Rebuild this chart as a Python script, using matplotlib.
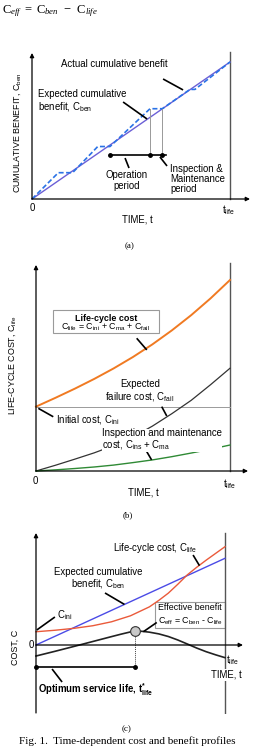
import matplotlib
matplotlib.use("Agg")
import matplotlib.pyplot as plt
from matplotlib.patches import Rectangle

plt.rcParams["font.family"] = ["Liberation Sans", "DejaVu Sans"]
plt.rcParams["mathtext.fontset"] = "custom"
plt.rcParams["mathtext.rm"] = "Liberation Serif"
plt.rcParams["mathtext.it"] = "Liberation Serif:italic"
plt.rcParams["mathtext.sf"] = "Liberation Sans"
plt.rcParams["mathtext.bf"] = "Liberation Sans:bold"

W, H = 254, 747
FS = 6.9      # annotation text
FS_S = 6.4    # axis titles and boxed text

# (a) cumulative benefit
a_exp_t = [0.0, 1.0]
a_exp_c = [0.0, 1.0]
a_act_t = [0.0, 0.133, 0.205, 0.332, 0.394, 0.596, 0.658, 0.798, 0.823, 1.0]
a_act_c = [0.0, 0.192, 0.192, 0.383, 0.383, 0.659, 0.659, 0.80, 0.80, 1.0]
a_period_t = [0.394, 0.596, 0.658]
a_period_c = 0.321

# (b) life-cycle cost
b_t = [0.0, 0.1, 0.2, 0.3, 0.4, 0.5, 0.6, 0.7, 0.8, 0.9, 1.0]
b_life = [0.337, 0.383, 0.431, 0.482, 0.537, 0.597, 0.663, 0.736, 0.816, 0.904, 1.0]
b_fail = [0.0, 0.03, 0.062, 0.095, 0.133, 0.178, 0.235, 0.30, 0.37, 0.452, 0.538]
b_ma = [0.0, 0.006, 0.013, 0.021, 0.031, 0.044, 0.058, 0.075, 0.094, 0.114, 0.136]
b_ini = 0.337

# (c) cost vs benefit
c_ben_t = [0.0, 1.0]
c_ben = [0.0, 1.0]
c_life_t = [0.0, 0.1, 0.2, 0.3, 0.4, 0.5, 0.6, 0.65, 0.7, 0.75, 0.8, 0.85, 0.9, 1.0]
c_life = [0.153, 0.170, 0.192, 0.222, 0.268, 0.337, 0.440, 0.515, 0.598, 0.700, 0.808, 0.896, 0.978, 1.134]
c_eff_t = [0.0, 0.1, 0.2, 0.3, 0.4, 0.45, 0.5, 0.524, 0.56, 0.6, 0.65, 0.7, 0.75, 0.8, 0.85, 0.9, 0.95, 1.0]
c_eff = [-0.127, -0.073, -0.017, 0.04, 0.097, 0.125, 0.151, 0.161, 0.158, 0.148, 0.128, 0.098,
         0.058, 0.012, -0.035, -0.077, -0.113, -0.146]
c_opt_t = 0.524
c_opt_c = 0.161
c_opt_bar = -0.254


def panel(fig, ox, oy, sx, sy, xlim, ylim):
    x0 = ox + xlim[0] * sx
    x1 = ox + xlim[1] * sx
    ytop = oy - ylim[1] * sy
    ybot = oy - ylim[0] * sy
    ax = fig.add_axes([x0 / W, 1 - ybot / H, (x1 - x0) / W, (ybot - ytop) / H])
    ax.set_xlim(xlim)
    ax.set_ylim(ylim)
    ax.axis("off")
    return ax


def arrow(ax, x0, y0, x1, y1):
    ax.annotate("", xy=(x1, y1), xytext=(x0, y0),
                arrowprops=dict(arrowstyle="-|>", color="black", lw=0.9,
                                mutation_scale=6, shrinkA=0, shrinkB=0))


def pointer(ax, x0, y0, x1, y1):
    ax.plot([x0, x1], [y0, y1], color="black", lw=1.2, solid_capstyle="butt")


def axes_lines(ax, xend, ytop, ybot=0.0):
    arrow(ax, 0, ybot, 0, ytop)
    arrow(ax, 0, 0, xend, 0)


def sub(s):
    return r"$_{\mathsf{" + s + "}}$"


fig = plt.figure(figsize=(W / 100, H / 100), dpi=100)
fig.patch.set_facecolor("white")

fig.text(2 / W, 1 - 11 / H,
         r"$\mathrm{C}_{eff}\ =\ \mathrm{C}_{ben}\ \ \mathrm{-}\ \ \mathrm{C}_{life}$",
         fontsize=9.0, va="center", ha="left")

# ---- panel (a)
ax = panel(fig, 32, 199, 198, 137, (-0.2, 1.12), (-0.25, 1.1))
axes_lines(ax, 1.101, 1.066)
ax.plot([1, 1], [0, 1.073], color="#555555", lw=1.0)
ax.plot(a_exp_t, a_exp_c, color="#6b5fd6", lw=1.0)
ax.plot(a_act_t, a_act_c, color="#2a72e6", lw=1.2, ls=(0, (3, 1.5)))
for t in a_period_t[1:]:
    ax.plot([t, t], [a_period_c, 0.659], color="#999999", lw=0.7)
ax.plot([a_period_t[0], a_period_t[-1] + 0.02], [a_period_c, a_period_c], color="black", lw=1.2)
ax.plot(a_period_t, [a_period_c] * 3, "o", color="black", ms=2.5)
ax.text(0.417, 0.985, "Actual cumulative benefit", fontsize=FS, ha="center", va="center")
pointer(ax, 0.662, 0.876, 0.763, 0.796)
ax.text(0.03, 0.712, "Expected cumulative\nbenefit, C" + sub("ben"), fontsize=FS,
        ha="left", va="center", linespacing=1.1)
pointer(ax, 0.46, 0.708, 0.581, 0.584)
ax.text(0.48, 0.135, "Operation\nperiod", fontsize=FS, ha="center", va="center", linespacing=1.15)
pointer(ax, 0.47, 0.299, 0.49, 0.226)
ax.text(0.697, 0.146, "Inspection &\nMaintenance\nperiod", fontsize=FS, ha="left", va="center",
        linespacing=1.05)
pointer(ax, 0.646, 0.307, 0.682, 0.241)
ax.text(-0.076, 0.482, "CUMULATIVE BENEFIT, C" + sub("ben"), fontsize=FS_S, rotation=90,
        ha="center", va="center")
ax.text(0.0, -0.066, "0", fontsize=FS, ha="center", va="center")
ax.text(0.995, -0.08, "t" + sub("life"), fontsize=FS, ha="center", va="center")
ax.text(0.53, -0.146, "TIME, t", fontsize=FS, ha="center", va="center")
fig.text(130 / W, 1 - 246 / H, "(a)", fontsize=6.5, family="Liberation Serif", ha="center", va="center")

# ---- panel (b)
ax = panel(fig, 36, 471, 194, 191, (-0.2, 1.12), (-0.12, 1.1))
axes_lines(ax, 1.093, 1.079)
ax.plot([1, 1], [0, 1.089], color="#555555", lw=1.0)
ax.plot([0, 1], [b_ini, b_ini], color="#9a9a9a", lw=0.7)
ax.plot(b_t, b_life, color="#f07a22", lw=1.4)
ax.plot(b_t, b_fail, color="#333333", lw=0.9)
ax.plot(b_t, b_ma, color="#2f8a35", lw=1.0)
ax.add_patch(Rectangle((0.086, 0.721), 0.55, 0.122, fc="white", ec="#9a9a9a", lw=0.8))
ax.text(0.361, 0.80, "Life-cycle cost", fontsize=FS_S, fontweight="bold", ha="center", va="center")
ax.text(0.361, 0.752, "C" + sub("life") + " = C" + sub("ini") + " + C" + sub("ma") + " + C" + sub("fail"),
        fontsize=FS_S, ha="center", va="center")
pointer(ax, 0.519, 0.695, 0.571, 0.634)
ax.text(0.536, 0.417, "Expected\nfailure cost, C" + sub("fail"), fontsize=FS, ha="center", va="center",
        linespacing=1.1)
pointer(ax, 0.648, 0.337, 0.674, 0.288)
ax.text(0.103, 0.271, "Initial cost, C" + sub("ini"), fontsize=FS, ha="left", va="center")
pointer(ax, 0.089, 0.284, 0.012, 0.328)
ax.text(0.34, 0.165, "Inspection and maintenance\ncost, C" + sub("ins") + " + C" + sub("ma"),
        fontsize=FS, ha="left", va="center", linespacing=1.1,
        bbox=dict(fc="white", ec="none", pad=0.3))
pointer(ax, 0.571, 0.101, 0.596, 0.058)
ax.text(-0.119, 0.555, "LIFE-CYCLE COST, C" + sub("life"), fontsize=FS_S, rotation=90,
        ha="center", va="center")
ax.text(-0.005, -0.052, "0", fontsize=FS, ha="center", va="center")
ax.text(1.0, -0.068, "t" + sub("life"), fontsize=FS, ha="center", va="center")
ax.text(0.552, -0.11, "TIME, t", fontsize=FS, ha="center", va="center")
fig.text(128 / W, 1 - 515 / H, "(b)", fontsize=6.5, family="Liberation Serif", ha="center", va="center")

# ---- panel (c)
ax = panel(fig, 36, 645, 189, 86.7, (-0.2, 1.12), (-0.8, 1.3))
axes_lines(ax, 1.095, 1.292, ybot=-0.784)
ax.plot([1, 1], [-0.784, 1.292], color="#555555", lw=1.0)
ax.plot(c_ben_t, c_ben, color="#4b4be6", lw=1.0)
ax.plot(c_life_t, c_life, color="#ea5a3a", lw=1.0)
ax.plot(c_eff_t, c_eff, color="#222222", lw=1.2)
ax.plot([c_opt_t, c_opt_t], [c_opt_bar, c_opt_c], color="#444444", lw=0.7, ls=(0, (1, 1)))
ax.plot([0, c_opt_t], [c_opt_bar, c_opt_bar], color="black", lw=1.2)
ax.plot([0, c_opt_t], [c_opt_bar, c_opt_bar], "o", color="black", ms=2.5)
ax.plot([c_opt_t], [c_opt_c], "o", mfc="#c8c8c8", mec="#333333", mew=0.8, ms=7)
ax.text(0.407, 1.119, "Life-cycle cost, C" + sub("life"), fontsize=FS, ha="left", va="center")
pointer(ax, 0.831, 1.038, 0.865, 0.915)
ax.text(0.328, 0.767, "Expected cumulative\nbenefit, C" + sub("ben"), fontsize=FS, ha="center",
        va="center", multialignment="center", linespacing=1.1)
pointer(ax, 0.365, 0.60, 0.468, 0.468)
ax.text(0.11, 0.346, "C" + sub("ini"), fontsize=FS, ha="left", va="center")
pointer(ax, 0.1, 0.323, 0.004, 0.173)
ax.add_patch(Rectangle((0.63, 0.196), 0.37, 0.30, fc="white", ec="#9a9a9a", lw=0.8))
ax.text(0.815, 0.427, "Effective benefit", fontsize=FS_S, ha="center", va="center")
ax.text(0.815, 0.277, "C" + sub("eff") + " = C" + sub("ben") + " - C" + sub("life"), fontsize=FS_S,
        ha="center", va="center")
pointer(ax, 0.639, 0.260, 0.568, 0.153)
ax.text(-0.01, 0.0, "0", fontsize=FS, ha="right", va="center")
ax.text(1.042, -0.173, "t" + sub("life"), fontsize=FS, ha="center", va="center")
ax.text(1.005, -0.346, "TIME, t", fontsize=FS, ha="center", va="center",
        bbox=dict(fc="white", ec="none", pad=0.5))
ax.text(-0.111, -0.023, "COST, C", fontsize=FS_S, rotation=90, ha="center", va="center")
ax.text(0.312, -0.519, r"Optimum service life, $\mathbf{t^{*}_{life}}$", fontsize=FS,
        fontweight="bold", ha="center", va="center")
pointer(ax, 0.085, -0.277, 0.138, -0.427)
fig.text(127 / W, 1 - 729 / H, "(c)", fontsize=6.5, family="Liberation Serif", ha="center", va="center")

fig.text(127 / W, 1 - 741 / H, "Fig. 1.  Time-dependent cost and benefit profiles",
         fontsize=8, family="Liberation Serif", ha="center", va="center")

fig.savefig("out.png", dpi=100)
